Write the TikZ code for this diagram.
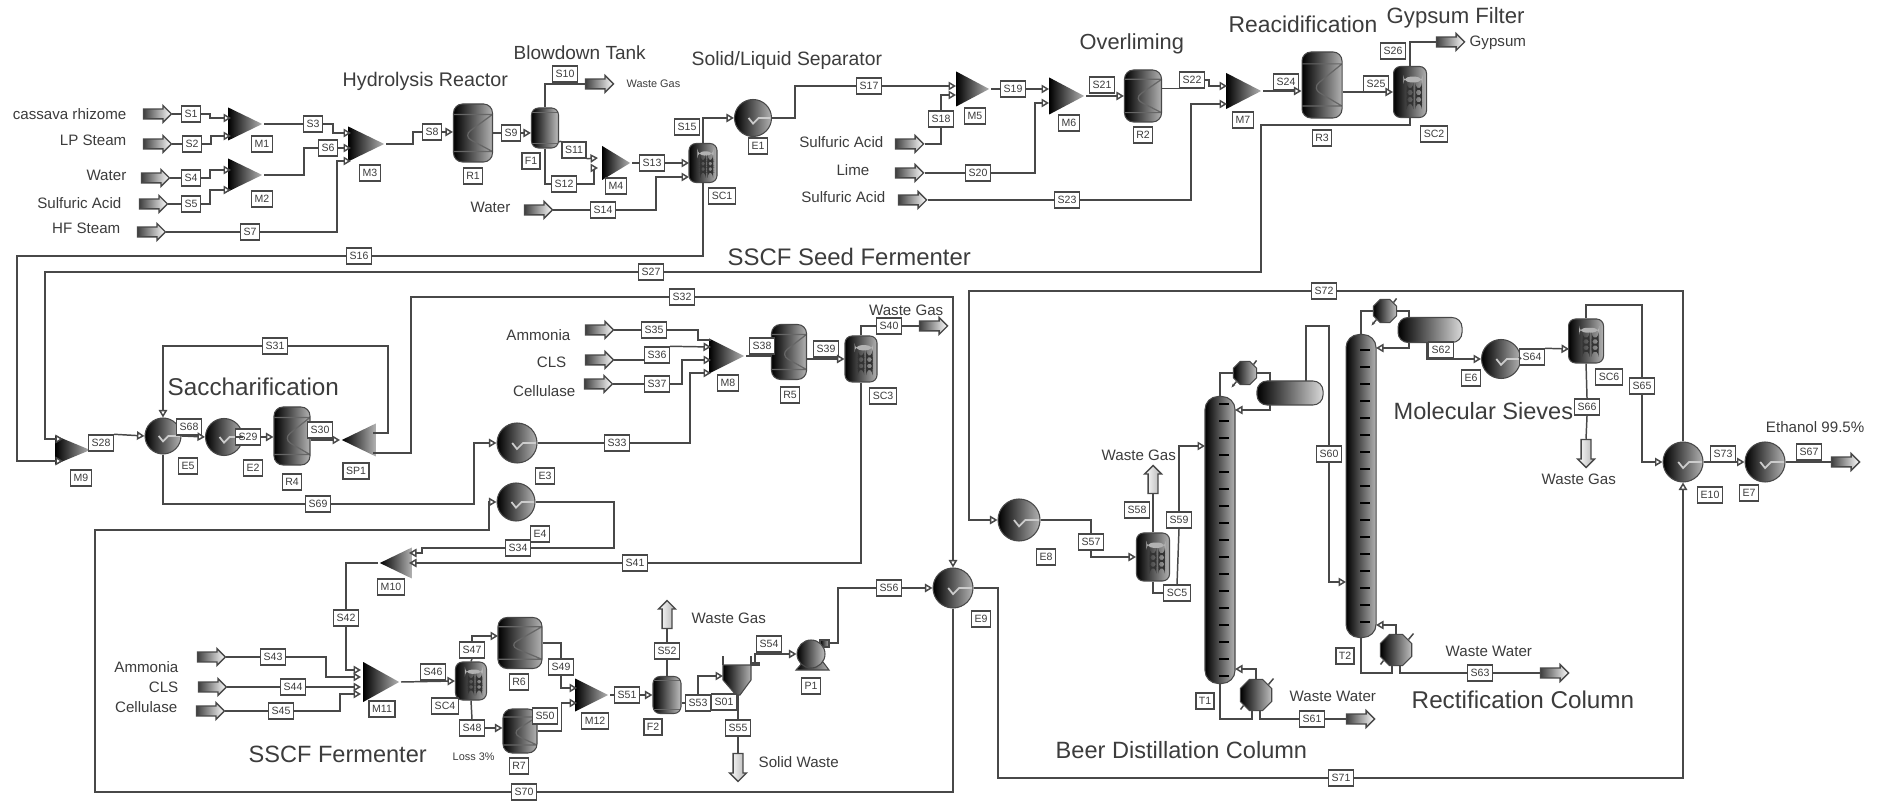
\documentclass[tikz,border=0pt]{standalone}
\usepackage{fontspec}
\setmainfont{Liberation Sans}
\usepackage{tikz}
\usetikzlibrary{arrows.meta,calc,shapes.geometric,shapes.arrows,shadings}
\definecolor{plantink}{HTML}{3C3C3C}
\definecolor{plantline}{HTML}{484848}

\begin{document}
\begin{tikzpicture}[x=.01cm,y=-.01cm,line cap=butt,text=plantink,
  strm/.style={draw=plantline,line width=.42pt},
  port/.style={-{Triangle[open,fill=white,length=.075cm,width=.085cm]}},
  tag/.style={draw=plantline,line width=.4pt,fill=white,inner xsep=.03cm,inner ysep=0pt,minimum width=.18cm,minimum height=.16cm,font=\fontsize{3}{3}\selectfont},
  sec/.style={inner sep=0pt,font=\fontsize{#1}{#1}\selectfont},
  lab/.style={inner sep=0pt,font=\fontsize{4.3}{5}\selectfont},
  feed/.style={single arrow,single arrow head extend=.035cm,inner sep=0pt,text height=.085cm,text depth=0pt,minimum height=.28cm,draw=plantline,line width=.4pt,left color=black!75,right color=white},
  vent/.style={single arrow,single arrow head extend=.035cm,inner sep=0pt,text width=.085cm,text height=0pt,text depth=0pt,minimum height=.28cm,draw=plantline,line width=.4pt,left color=white,right color=black!30},
  mixer/.style 2 args={isosceles triangle,isosceles triangle stretches,inner sep=0pt,anchor=apex,minimum width=#1*.01cm,minimum height=#2*.01cm,left color=black,middle color=black!85,right color=black!30},
  heater/.style={circle,inner sep=0pt,minimum size=#1*.01cm,draw=plantline,line width=.3pt,left color=black,right color=black!30,
    path picture={\draw[black!20,line width=.5pt] (#1*.5,0)--(#1*.15,0)--(0,#1*.15)--(-#1*.12,0);}},
  reactor/.style 2 args={rectangle,rounded corners=.09cm,inner sep=0pt,minimum width=#1*.01cm,minimum height=#2*.01cm,draw=plantline,line width=.3pt,left color=black,right color=black!30,
    path picture={\draw[black!60,line width=.35pt] (-#1*.5,-#2*.32)--(#1*.5,-#2*.32) (-#1*.5,#2*.32)--(#1*.5,#2*.32) (#1*.5,-#2*.32)--(-#1*.25,#2*.05)--(#1*.5,#2*.32);}},
  sepr/.style 2 args={rectangle,rounded corners=.07cm,inner sep=0pt,minimum width=#1*.01cm,minimum height=#2*.01cm,draw=plantline,line width=.3pt,left color=black,right color=black!30,
    path picture={\fill[black!30] (-#1*.2,-#2*.3) rectangle (#1*.38,-#2*.19);
      \foreach \r in {-.08,.06,.2} {\fill[black!80] (-#1*.1,#2*\r) rectangle (#1*.1,#2*\r+2); \fill[black!80] (#1*.16,#2*\r) rectangle (#1*.36,#2*\r+2);}}},
  vessel/.style 2 args={rectangle,rounded corners=.07cm,inner sep=0pt,minimum width=#1*.01cm,minimum height=#2*.01cm,draw=plantline,line width=.3pt,left color=black,right color=black!25,
    path picture={\draw[black!60,line width=.3pt] (-#1*.5,-#2*.38)--(#1*.5,-#2*.38) (-#1*.5,#2*.38)--(#1*.5,#2*.38);}},
  column/.style 2 args={rectangle,rounded corners=.13cm,inner sep=0pt,minimum width=#1*.01cm,minimum height=#2*.01cm,draw=plantline,line width=.3pt,left color=black,middle color=black!70,right color=black!30,
    path picture={\foreach \t in {-170,-153,...,170} \draw[black,line width=.5pt] (-1,\t)--(9,\t);}},
  drum/.style 2 args={rectangle,rounded corners=.1cm,inner sep=0pt,minimum width=#1*.01cm,minimum height=#2*.01cm,draw=plantline,line width=.3pt,left color=black,right color=black!15},
  bowl/.style={circle,inner sep=0pt,minimum size=#1*.01cm,draw=plantline,line width=.3pt,left color=black,right color=black!25},
  octa/.style={regular polygon,regular polygon sides=8,inner sep=0pt,minimum size=#1*.01cm,draw=plantline,line width=.3pt,left color=black,right color=black!25}]
\path[use as bounding box] (0,0) rectangle (1883,801);
\fill[white] (0,0) rectangle (1883,801);

% equipment of the pretreatment train
\node[mixer={33}{34}] (m1) at (264,124) {};
\node[mixer={33}{34}] (m2) at (264,175) {};
\node[mixer={35}{36}] (m3) at (386,144) {};
\node[reactor={39}{58}] (r1) at (473,133) {};
\node[vessel={27}{40}] (f1) at (545,128) {};
\node[mixer={34}{28}] (m4) at (632,163) {};
\node[sepr={28}{39}] (sc1) at (703,163) {};
\node[heater=37] (e1) at (753,118) {};
\node[mixer={35}{33}] (m5) at (991,89) {};
\node[mixer={37}{35}] (m6) at (1086,96) {};
\node[reactor={37}{52}] (r2) at (1143,96) {};
\node[mixer={36}{35}] (m7) at (1263,91) {};
\node[reactor={40}{66}] (r3) at (1322,85) {};
\node[sepr={33}{51}] (sc2) at (1410,92) {};

% saccharification and seed train
\node[mixer={29}{35}] (m9) at (92,450) {};
\node[heater=36] (e5) at (163,436) {};
\node[heater=37] (e2) at (224,437) {};
\node[reactor={36}{58}] (r4) at (292,436) {};
\node[mixer={33}{34},shape border rotate=180] (sp1) at (340,440) {};
\node[heater=40] (e3) at (517,443) {};
\node[mixer={35}{35}] (m8) at (746,356) {};
\node[reactor={35}{55}] (r5) at (789,352) {};
\node[sepr={32}{46}] (sc3) at (861,359) {};
\node[heater=38] (e4) at (516,502) {};

% fermenter train
\node[mixer={31}{32},shape border rotate=180] (m10) at (378,563) {};
\node[mixer={40}{36}] (m11) at (401,682) {};
\node[sepr={31}{38}] (sc4) at (471,681) {};
\node[reactor={44}{51}] (r6) at (520,643) {};
\node[reactor={34}{44}] (r7) at (520,731) {};
\node[mixer={33}{33}] (m12) at (610,695) {};
\node[vessel={28}{37}] (f2) at (667,695) {};
\shade[left color=black,right color=black!30,draw=plantline,line width=.3pt] (723,665)--(751,665)--(751,680)--(740,695)--(736,695)--(723,680)--cycle;
\draw[strm] (723,656)--(723,665) (751,656)--(751,665);
\draw[plantline,line width=1pt] (751,664)--(760,664);
\shade[left color=black,right color=black!30,draw=plantline,line width=.3pt] (820,640) rectangle (829,647);
\shade[left color=black,right color=black!30,draw=plantline,line width=.3pt] (803,662)--(823,662)--(829,670)--(796,670)--cycle;
\node[bowl=28] (p1) at (811,654) {};
\node[heater=40] (e9) at (953,588) {};

% distillation and dehydration
\node[heater=42] (e8) at (1019,520) {};
\node[sepr={33}{48}] (sc5) at (1153,557) {};
\node[column={30}{287}] (t1) at (1220,540) {};
\node[octa=25] (c1) at (1245,373) {};
\node[drum={66}{24}] (d1) at (1290,393) {};
\node[octa=34] (reb1) at (1256,695) {};
\node[column={30}{303}] (t2) at (1361,486) {};
\node[octa=25] (c2) at (1385,311) {};
\node[drum={64}{25}] (d2) at (1430,330) {};
\node[octa=34] (reb2) at (1396,650) {};
\node[heater=39] (e6) at (1501,359) {};
\node[sepr={35}{44}] (sc6) at (1586,341) {};
\node[heater=40] (e10) at (1683,462) {};
\node[heater=40] (e7) at (1765,462) {};

% feed and product arrows
\foreach \n/\x/\y in {a1/155/114,a2/155/144,a3/153/178,a4/151/204,a5/149/232,a6/536/210,a7/907/144,a8/907/173,a9/910/200,w1/597/84,g1/1448/42,a10/597/330,a11/597/360,a12/596/384,w2/931/326,a13/209/657,a14/210/687,a15/208/711,w5/1358/719,w6/1552/673,eth/1843/462}
  \node[feed] (\n) at (\x,\y) {};
\node[vent,shape border rotate=90] (w3) at (667,617) {};
\node[vent,shape border rotate=270] (sw) at (738,765) {};
\node[vent,shape border rotate=90] (w4) at (1153,482) {};
\node[vent,shape border rotate=270] (w7) at (1586,451) {};

% stream and block tags
\foreach \n/\x/\y in {S1/191/114,S2/192/144,M1/262/144,S3/313/124,M2/262/199,S4/191/178,S5/191/204,S6/328/148,S7/250/232,M3/370/173,S8/432/132,R1/473/176,S9/511/133,F1/531/161,S10/565/74,S11/574/150,S12/564/184,M4/616/186,S13/652/163,S14/603/210,S15/687/127,SC1/722/196,S16/359/256,E1/758/146,S17/869/86,M5/975/116,S18/941/119,S19/1013/89,S20/978/173,S21/1102/85,S22/1192/80,S23/1067/200,M6/1069/123,R2/1143/135,M7/1243/120,S24/1286/82,R3/1322/138,S25/1376/84,S26/1393/51,SC2/1434/134,S27/651/272,
  S28/101/443,M9/81/478,S68/189/427,E5/188/466,S29/248/437,E2/253/468,R4/292/482,S30/320/430,SP1/356/471,S31/275/346,S32/682/297,S69/318/504,S33/617/443,E3/545/476,S35/654/330,S36/657/355,S37/657/384,M8/728/383,S38/762/346,R5/790/395,S39/826/349,S40/889/326,SC3/883/396,
  E4/540/534,S34/518/548,S41/635/563,M10/391/587,S42/346/618,S43/273/657,S44/293/687,S45/281/711,M11/382/709,S46/433/672,SC4/445/706,S47/472/650,S48/472/728,R6/519/682,R7/519/766,S50/545/716,S49/561/667,M12/595/721,S51/627/695,F2/653/727,S52/667/651,S53/698/703,S01/724/702,S54/769/644,P1/811/686,S55/738/728,S56/889/588,E9/981/619,S70/524/792,
  E8/1046/557,S57/1091/542,S58/1137/510,S59/1179/520,SC5/1177/593,T1/1205/701,S60/1329/454,T2/1345/656,S61/1312/719,S63/1480/673,S62/1441/350,E6/1471/378,S64/1532/357,SC6/1609/377,S65/1642/386,S66/1587/407,S71/1341/778,S72/1324/291,E10/1710/495,S73/1723/454,E7/1749/493,S67/1809/452}
  \node[tag] (\n) at (\x,\y) {\n};

% inlet points on the units
\foreach \n/\x/\y in {m1a/231/118,m1b/231/136,m2a/231/170,m2b/231/190,m3a/351/133,m3b/351/148,m3c/351/161,m4a/598/158,m4b/598/168,sc1a/689/163,sc1b/689/177,m5a/956/86,m5b/956/95,m6a/1049/89,m6b/1049/103,m7a/1227/86,m7b/1227/104,
  m9a/63/439,m9b/63/461,m8a/711/340,m8b/711/347,m8c/711/360,m8d/711/373,m10a/409/553,m10b/409/563,m11a/361/670,m11b/361/677,m11c/361/687,m11d/361/694,r6a/498/636,m12a/577/688,m12b/577/703,st1a/723/676,st1b/755/664,p1o/829/643,
  t1a/1205/446,t1b/1235/410,t1c/1235/669,d1a/1270/381,d1b/1270/405,d1c/1306/381,t2a/1346/582,t2b/1376/348,t2c/1376/625,d2a/1409/318,d2b/1409/342,d2c/1427/342,sc6a/1569/349,reb1a/1252/711,reb1b/1260/711,reb2a/1392/666,reb2b/1400/666}
  \coordinate (\n) at (\x,\y);

% hydrolysis section
\draw[strm] (a1.tip)--(S1.west);
\draw[strm] (a2.tip)--(S2.west);
\draw[strm] (a3.tip)--(S4.west);
\draw[strm] (a4.tip)--(S5.west);
\draw[strm] (a5.tip)--(S7.west);
\draw[strm,port] (S1.east)--++(9,0) |- (m1a);
\draw[strm,port] (S2.east)--++(9,0) |- (m1b);
\draw[strm,port] (S4.east)--++(9,0) |- (m2a);
\draw[strm,port] (S5.east)--++(9,0) |- (m2b);
\draw[strm] (m1.apex)--(S3.west);
\draw[strm,port] (S3.east)--++(10,0) |- (m3a);
\draw[strm] (m2.apex)-|(304,148)--(S6.west);
\draw[strm,port] (S6.east)--(m3b);
\draw[strm,port] (S7.east)--++(77,0) |- (m3c);
\draw[strm] (m3.apex)--++(27,0) |- (S8.west);
\draw[strm,port] (S8.east)--(r1.west|-S8);
\draw[strm] (r1.east)--(S9.west);
\draw[strm,port] (S9.east)--(f1.west|-S9);
\draw[strm] (f1.north) |- (w1.tail);
\draw[strm] (558,142)--(S11.north west);
\draw[strm,port] (S11.south east)--(m4a);
\draw[strm] (f1.south) |- (S12.west);
\draw[strm,port] (S12.east)--++(17,0) |- (m4b);
\draw[strm] (m4.apex)--(S13.west);
\draw[strm,port] (S13.east)--(sc1a);
\draw[strm] (a6.tip)--(S14.west);
\draw[strm,port] (S14.east)--++(40,0) |- (sc1b);
\draw[strm,port] (sc1.north) |- (e1.west);
\draw[strm] (sc1.south) |- (S16.east);
\draw[strm,port] (S16.west)--(17,256) |- (m9b);
\draw[strm] (e1.east)--++(23,0) |- (S17.west);
\draw[strm,port] (S17.east)--(m5a);
\draw[strm] (a7.tip) -| (S18.south);
\draw[strm,port] (S18.north) |- (m5b);
\draw[strm] (m5.apex)--(S19.west);
\draw[strm,port] (S19.east)--(m6a);
\draw[strm] (a8.tip)--(S20.west);
\draw[strm,port] (S20.east)--++(44,0) |- (m6b);
\draw[strm,port] (m6.apex)--(r2.west);
\draw[strm] (S22.south west-|r2.east)--(S22.south west);
\draw[strm,port] (S22.east)--++(4,0) |- (m7a);
\draw[strm] (a9.tip)--(S23.west);
\draw[strm,port] (S23.east)--++(111,0) |- (m7b);
\draw[strm,port] (m7.apex)--(r3.west|-m7.apex);
\draw[strm,port] (r3.east|-sc2.west)--(sc2.west);
\draw[strm] (sc2.north) |- (g1.tail);
\draw[strm] (sc2.south) |- (1261,125)--(1261,272)--(S27.east);
\draw[strm,port] (S27.west)--(45,272) |- (m9a);

% saccharification section
\draw[strm,port] (S28.north east)--(e5.west);
\draw[strm,port] (e5.east)--(e2.west);
\draw[strm] (e2.east)--(S29.west);
\draw[strm,port] (S29.east)--(r4.west|-S29);
\draw[strm,port] (r4.east|-sp1.apex)--(sp1.apex);
\draw[strm] (373,433)--(388,433)--(388,346)--(S31.east);
\draw[strm,port] (S31.west) -| (e5.north);
\draw[strm] (373,453)--(411,453)--(411,297)--(S32.west);
\draw[strm,port] (S32.east) -| (e9.north);
\draw[strm] (e5.south) |- (S69.west);
\draw[strm,port] (S69.east)--(474,504) |- (e3.west);
\draw[strm] (e3.east)--(S33.west);
\draw[strm,port] (S33.east)--(690,443) |- (m8d);
\draw[strm] (a10.tip)--(S35.west);
\draw[strm] (S35.east)--(698,330) |- (m8a);
\draw[strm] (a11.tip)--(a11.tip-|S36.west);
\draw[strm,port] (S36.north east)--(m8b);
\draw[strm] (a12.tip)--(S37.west);
\draw[strm,port] (S37.east)--(682,384) |- (m8c);
\draw[strm] (m8.apex)--(r5.west|-m8.apex);
\draw[strm,port] (r5.east|-sc3.west)--(sc3.west);
\draw[strm] (sc3.north) |- (S40.west);
\draw[strm] (S40.east)--(w2.tail);

% fermenter section
\draw[strm] (sc3.south) |- (S41.east);
\draw[strm,port] (S41.west)--(m10b);
\draw[strm] (e4.east)--(614,502) |- (S34.east);
\draw[strm,port] (S34.west)--(422,548) |- (m10a);
\draw[strm,port] (S70.west)--(95,792)--(95,530)--(489,530) |- (e4.west);
\draw[strm] (S70.east) -| (e9.south);
\draw[strm] (m10.apex) -| (S42.north);
\draw[strm,port] (S42.south) |- (m11a);
\draw[strm] (a13.tip)--(S43.west);
\draw[strm,port] (S43.east)--(326,657) |- (m11b);
\draw[strm] (a14.tip)--(S44.west);
\draw[strm,port] (S44.east)--(m11c);
\draw[strm] (a15.tip)--(S45.west);
\draw[strm,port] (S45.east)--(340,711) |- (m11d);
\draw[strm,port] (m11.apex)--(sc4.west);
\draw[strm] (sc4.north)--(S47.south);
\draw[strm,port] (S47.north) |- (r6a);
\draw[strm] (sc4.south)--(S48.north);
\draw[strm,port] (S48.east)--(r7.west|-S48);
\draw[strm] (r6.east) -| (S49.north);
\draw[strm,port] (S49.south) |- (m12a);
\draw[strm,port] (r7.east)--++(24,0) |- (m12b);
\draw[strm] (m12.apex)--(S51.west);
\draw[strm,port] (S51.east)--(f2.west);
\draw[strm] (f2.north)--(S52.south);
\draw[strm] (S52.north)--(w3.tail);
\draw[strm] (S53.west-|f2.east)--(S53.west);
\draw[strm,port] (S53.north) |- (st1a);
\draw[strm,port] (st1b) |- (p1.west);
\draw[strm] (738,695)--(S55.north);
\draw[strm] (S55.south)--(sw.tail);
\draw[strm] (p1o)--++(9,0) |- (S56.west);
\draw[strm,port] (S56.east)--(e9.west);

% distillation section
\draw[strm] (e9.east)--(998,588) |- (S71.west);
\draw[strm,port] (S71.east) -| (e10.south);
\draw[strm] (e10.north) |- (S72.east);
\draw[strm,port] (S72.west)--(969,291) |- (e8.west);
\draw[strm] (e8.east) -| (S57.north);
\draw[strm,port] (S57.south) |- (sc5.west);
\draw[strm] (sc5.north)--(w4.tail);
\draw[strm] (sc5.south) |- (SC5.west);
\draw[strm] (SC5.north)--(S59.south);
\draw[strm,port] (S59.north) |- (t1a);
\draw[strm] (t1.north) |- (c1.west);
\draw[strm] (c1.east) -| (d1a);
\draw[strm,port] (d1b) |- (t1b);
\draw[strm] (d1c)--(1306,326) -| (S60.north);
\draw[strm,port] (S60.south) |- (t2a);
\draw[strm] (t1.south)--(1220,719) -| (reb1a);
\draw[strm] (reb1b) |- (S61.west);
\draw[strm] (S61.east)--(w5.tail);
\draw[strm,port] (reb1.north) |- (t1c);
\draw[strm] (t2.north) |- (c2.west);
\draw[strm] (c2.east) -| (d2a);
\draw[strm,port] (d2b) |- (t2b);
\draw[strm,port] (d2c) |- (e6.west);
\draw[strm] (t2.south)--(1361,673) -| (reb2a);
\draw[strm] (reb2b) |- (S63.west);
\draw[strm] (S63.east)--(w6.tail);
\draw[strm,port] (reb2.north) |- (t2c);
\draw[strm] (e6.east)--(S64.west);
\draw[strm,port] (S64.north east)--(sc6a);
\draw[strm] (sc6.north)--(1586,305) -| (S65.north);
\draw[strm,port] (S65.south) |- (e10.west);
\draw[strm] (sc6.south)--(S66.north);
\draw[strm] (S66.south)--(w7.tail);
\draw[strm,port] (e10.east)--(e7.west);
\draw[strm] (e7.east)--(eth.tail);

% utility stubs on condensers and reboilers
\foreach \u in {c1,c2} {
  \draw[strm] (\u.45)--++(3,-4);
  \draw[strm,-{Stealth[length=.04cm]}] (\u.225)--++(-5,6);
}
\foreach \u in {reb1,reb2} {
  \draw[strm] (\u.40)--++(5,-6);
  \draw[strm] (\u.220)--++(-3,4);
}

% feed labels
\node[lab,anchor=east] (lb1) at (127,114) {cassava rhizome};
\node[lab,anchor=east] (lb2) at (127,140) {LP Steam};
\node[lab,anchor=east] (lb3) at (127,175) {Water};
\node[lab,anchor=east] (lb4) at (122,203) {Sulfuric Acid};
\node[lab,anchor=east] (lb5) at (121,228) {HF Steam};
\node[lab,anchor=east] (lb6) at (511,207) {Water};
\node[lab,anchor=east] (lb7) at (884,142) {Sulfuric Acid};
\node[lab,anchor=east] (lb8) at (870,170) {Lime};
\node[lab,anchor=east] (lb9) at (886,197) {Sulfuric Acid};
\node[lab,anchor=east] (lb10) at (571,335) {Ammonia};
\node[lab,anchor=east] (lb11) at (567,362) {CLS};
\node[lab,anchor=east] (lb12) at (576,391) {Cellulase};
\node[lab,anchor=east] (lb13) at (179,667) {Ammonia};
\node[lab,anchor=east] (lb14) at (179,687) {CLS};
\node[lab,anchor=east] (lb15) at (178,707) {Cellulase};
% product labels
\node[lab,anchor=west,font=\fontsize{3.1}{4}\selectfont] (lb16) at (626,84) {Waste Gas};
\node[lab,anchor=west] (lb17) at (1469,43) {Gypsum};
\node[lab,anchor=east] (lb18) at (944,310) {Waste Gas};
\node[lab,anchor=west] (lb19) at (691,618) {Waste Gas};
\node[lab,anchor=west] (lb20) at (758,762) {Solid Waste};
\node[lab,anchor=west,font=\fontsize{3.1}{4}\selectfont] (lb21) at (452,757) {Loss 3\%};
\node[lab,anchor=west] (lb22) at (1101,455) {Waste Gas};
\node[lab,anchor=west] (lb23) at (1289,696) {Waste Water};
\node[lab,anchor=west] (lb24) at (1445,651) {Waste Water};
\node[lab,anchor=west] (lb25) at (1541,479) {Waste Gas};
\node[lab,anchor=east] (lb26) at (1865,427) {Ethanol 99.5\%};

% section titles
\node[sec=5.6,anchor=west] (ttl1) at (342,81) {Hydrolysis Reactor};
\node[sec=5.4,anchor=west] (ttl2) at (513,53) {Blowdown Tank};
\node[sec=5.5,anchor=west] (ttl3) at (691,61) {Solid/Liquid Separator};
\node[sec=6.2,anchor=west] (ttl4) at (1079,44) {Overliming};
\node[sec=6.5,anchor=west] (ttl5) at (1228,24) {Reacidification};
\node[sec=6.3,anchor=west] (ttl6) at (1386,18) {Gypsum Filter};
\node[sec=6.8,anchor=west] (ttl7) at (727,257) {SSCF Seed Fermenter};
\node[sec=6.9,anchor=west] (ttl8) at (167,387) {Saccharification};
\node[sec=6.7,anchor=west] (ttl9) at (248,754) {SSCF Fermenter};
\node[sec=6.7,anchor=west] (ttl10) at (1055,750) {Beer Distillation Column};
\node[sec=6.9,anchor=west] (ttl11) at (1411,700) {Rectification Column};
\node[sec=6.7,anchor=west] (ttl12) at (1393,411) {Molecular Sieves};
\end{tikzpicture}
\end{document}
